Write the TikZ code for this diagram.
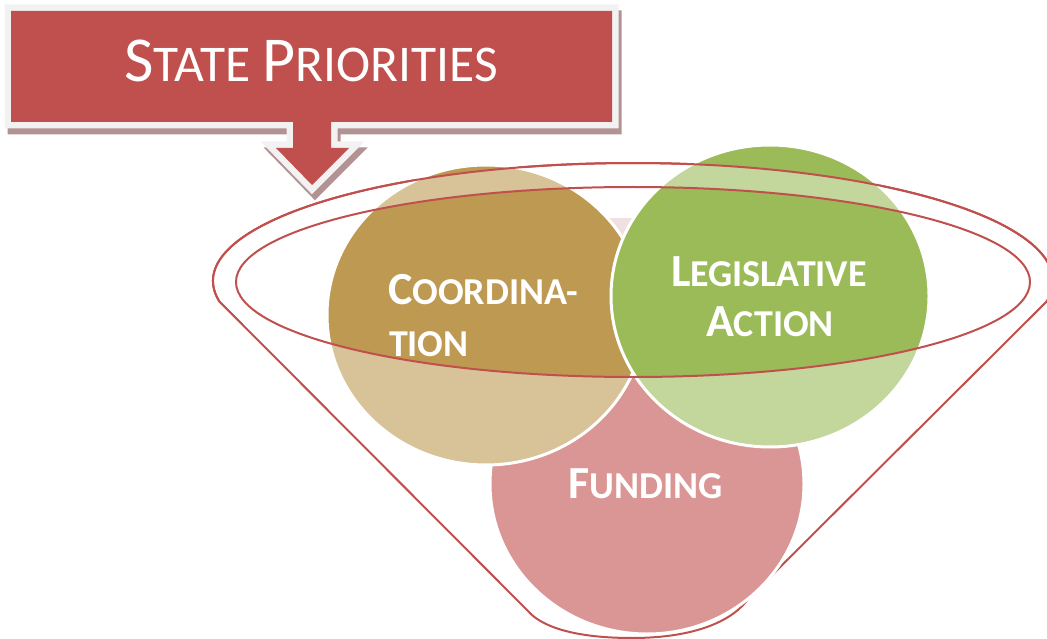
\documentclass[tikz,border=0pt]{standalone}
\usepackage{fontspec}
\setmainfont{Carlito}
\definecolor{boxred}{HTML}{C0504D}
\definecolor{rimred}{HTML}{C0504D}
\definecolor{tanD}{RGB}{189,153,82}
\definecolor{tanL}{RGB}{215,195,151}
\definecolor{grnD}{HTML}{9BBB59}
\definecolor{grnL}{HTML}{C3D69B}
\definecolor{pnk}{HTML}{D99694}
\definecolor{shadowc}{RGB}{178,146,146}
\definecolor{rimwhite}{RGB}{242,242,242}
\definecolor{faintpink}{RGB}{241,224,226}
\newcommand{\bigL}[1]{{\fontsize{64}{64}\selectfont #1}}
\newcommand{\smallL}[1]{{\fontsize{51.5}{51.5}\selectfont #1}}
\newcommand{\lblB}[1]{{\fontsize{46}{46}\selectfont\bfseries #1}}
\newcommand{\lblS}[1]{{\fontsize{38}{38}\selectfont\bfseries #1}}
\tikzset{
  calloutshape/.style={insert path={(11,11) -- (612,11) -- (612,122) -- (331,122) -- (331,148) -- (349,148) -- (312,185) -- (276,148) -- (293,148) -- (293,122) -- (11,122) -- cycle}},
  rim/.style={draw=rimred, line width=2pt},
  circedge/.style={draw=white, line width=3pt},
  lbl/.style={text=white, inner sep=0pt, outer sep=0pt},
}
\begin{document}
\begin{tikzpicture}[x=1pt, y=-1pt]
\useasboundingbox (0,0) rectangle (1047,639);

% funnel outline (lower part below the circles)
\draw[rim, line join=round] (219.4,301.5) arc[start angle=170, end angle=370, x radius=420, y radius=118]
  -- (748,599) .. controls (735,618) and (700,638) .. (632,638)
  .. controls (570,638) and (540,625) .. (528,611) -- cycle;

% faint back patch between the circles
\fill[faintpink] (600,218) rectangle (645,245);

% Funding circle
\fill[pnk] (647,484) ellipse [x radius=157, y radius=150];
\draw[circedge] (647,484) ellipse [x radius=157, y radius=150];

% Coordination circle
\begin{scope}
  \clip (486,315) ellipse [x radius=159, y radius=150];
  \fill[tanL] (0,0) rectangle (1047,639);
  \fill[tanD] (633,282) ellipse [x radius=397, y radius=95];
  \fill[tanD, even odd rule] (0,0) rectangle (1047,281)
     (213,281) arc[start angle=180, end angle=360, x radius=420, y radius=118] -- cycle;
\end{scope}
\draw[circedge] (486,315) ellipse [x radius=159, y radius=150];

% Legislative Action circle
\begin{scope}
  \clip (770,296) ellipse [x radius=159, y radius=151];
  \fill[grnL] (0,0) rectangle (1047,639);
  \fill[grnD] (633,282) ellipse [x radius=397, y radius=95];
  \fill[grnD, even odd rule] (0,0) rectangle (1047,281)
     (213,281) arc[start angle=180, end angle=360, x radius=420, y radius=118] -- cycle;
\end{scope}
\draw[circedge] (770,296) ellipse [x radius=159, y radius=151];

% funnel rim on top of circles
\draw[rim] (219.4,301.5) arc[start angle=170, end angle=370, x radius=420, y radius=118];
\draw[rim] (633,282) ellipse [x radius=397, y radius=95];

% labels
\node[lbl, anchor=base west] (coord1) at (388,304) {\lblB{C}\lblS{OORDINA-}};
\node[lbl, anchor=base west] (coord2) at (389,356) {\lblS{TION}};
\node[lbl, anchor=base] (legis1) at (769,286) {\lblB{L}\lblS{EGISLATIVE}};
\node[lbl, anchor=base] (legis2) at (770,336) {\lblB{A}\lblS{CTION}};
\node[lbl, anchor=base] (fund) at (646,498) {\lblB{F}\lblS{UNDING}};

% callout box
\begin{scope}[shift={(3,6)}]
  \path[draw=shadowc, fill=shadowc, line width=13pt, line join=miter, calloutshape];
\end{scope}
\path[draw=rimwhite, fill=rimwhite, line width=13pt, line join=miter, calloutshape];
\path[fill=boxred, calloutshape];
\node[lbl, anchor=base] (title) at (311,82) {\bigL{S}\smallL{TATE }\bigL{P}\smallL{RIORITIES}};
\end{tikzpicture}
\end{document}
